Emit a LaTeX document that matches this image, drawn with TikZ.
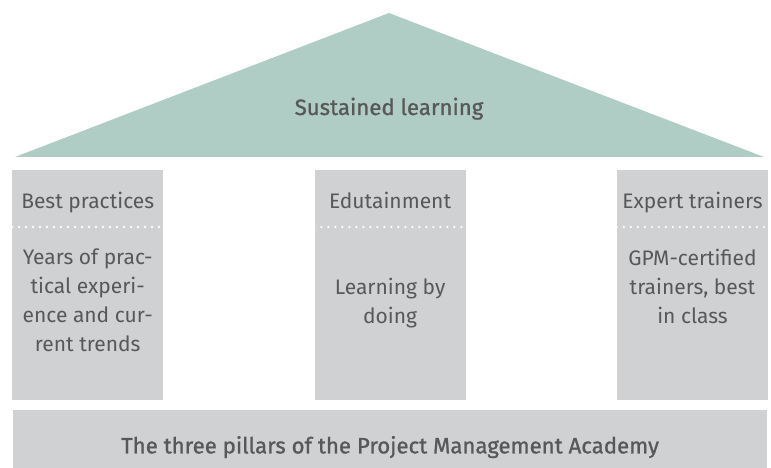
\documentclass[tikz,border=0pt]{standalone}
\usepackage{fontspec}
\setmainfont{Fira Sans}
\newfontfamily\mediumfont{Fira Sans}[FakeBold=1.0]
\usetikzlibrary{positioning}

\definecolor{roofgreen}{HTML}{AFCDC4}
\definecolor{pillargray}{HTML}{D0D1D3}
\definecolor{textgray}{HTML}{585858}

\begin{document}
\begin{tikzpicture}[x=1pt,y=1pt]
\fontsize{21}{29}\selectfont

\tikzset{every node/.style={text=textgray, align=center}}
\tikzset{pillar/.style={fill=pillargray, inner sep=0pt, minimum width=151pt, minimum height=230pt}}
\tikzset{dotline/.style={draw=white, line width=2.6pt, line cap=round, dash pattern=on 0pt off 7pt}}
\tikzset{mainlabel/.style={anchor=base, font=\mediumfont\fontsize{22.2}{29}\selectfont}}

\useasboundingbox (0,0) rectangle (771,-468);

\coordinate (roofleft) at (15,-157);
\coordinate (roofapex) at (389,-13);
\coordinate (roofright) at (764,-157);
\fill[roofgreen] (roofleft) -- (roofapex) -- (roofright) -- cycle;
\node[mainlabel] (sustained) at (389,-115) {Sustained learning};

\node[pillar, anchor=north west] (pillar1) at (12,-170) {};
\node[pillar, right=151pt of pillar1] (pillar2) {};
\node[pillar, right=151pt of pillar2] (pillar3) {};

\node[pillar, below=9pt of pillar2, minimum width=754pt, minimum height=59pt] (academy) {};
\node[mainlabel] (academytext) at ([yshift=-44pt]academy.north) {The three pillars of the Project Management Academy};

\node[anchor=base] (head1) at ([yshift=-38pt]pillar1.north) {Best practices};
\node[anchor=base] (head2) at ([yshift=-38pt]pillar2.north) {Edutainment};
\node[anchor=base] (head3) at ([yshift=-38pt]pillar3.north) {Expert trainers};

\draw[dotline] ([yshift=-57pt]pillar1.north west) -- ([yshift=-57pt]pillar1.north east);
\draw[dotline] ([yshift=-57pt]pillar2.north west) -- ([yshift=-57pt]pillar2.north east);
\draw[dotline] ([yshift=-57pt]pillar3.north west) -- ([yshift=-57pt]pillar3.north east);

\node[anchor=north, inner sep=0pt] (body1) at ([yshift=-79pt]pillar1.north) {Years of prac-\\tical experi-\\ence and cur-\\rent trends};
\node[anchor=north, inner sep=0pt] (body2) at ([yshift=-108pt]pillar2.north) {Learning by\\doing};
\node[anchor=north, inner sep=0pt] (body3) at ([yshift=-79pt]pillar3.north) {GPM-certified\\trainers, best\\in class};
\end{tikzpicture}
\end{document}
